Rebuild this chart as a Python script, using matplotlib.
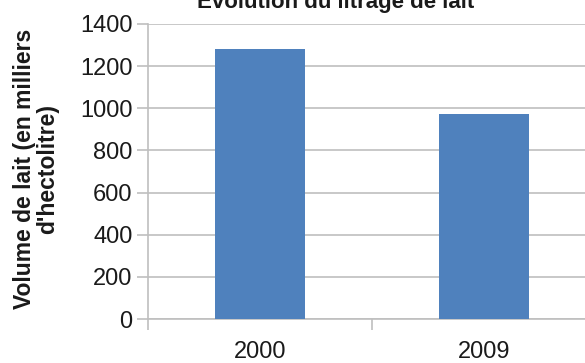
import matplotlib
matplotlib.use("Agg")
import matplotlib.pyplot as plt

# Milk volume by year (thousands of hectolitres)
years = ["2000", "2009"]
volumes = [1280, 975]
y_ticks = [0, 200, 400, 600, 800, 1000, 1200, 1400]

title = "Évolution du litrage de lait"
y_label = "Volume de lait (en milliers\nd'hectolitre)"

W, H = 585, 363
fig = plt.figure(figsize=(W / 100, H / 100), dpi=100)
plt.rcParams["font.family"] = ["Liberation Sans", "DejaVu Sans"]

# Plot area (extends slightly past the right edge of the figure)
left, right, top, bottom = 148, 596, 24, 319
ax = fig.add_axes([left / W, (H - bottom) / H, (right - left) / W, (bottom - top) / H])

grid_color = "#bfbfbf"
bar_color = "#4f81bd"
text_color = "#1a1a1a"

x = list(range(len(years)))
ax.bar(x, volumes, width=0.4, color=bar_color, zorder=3)

ax.set_xlim(-0.5, len(years) - 0.5)
ax.set_ylim(0, 1400)
ax.set_yticks(y_ticks)
ax.set_yticklabels([str(v) for v in y_ticks], fontsize=17, color=text_color)
ax.yaxis.grid(True, color=grid_color, linewidth=1.2, zorder=0)

# Category labels centered under the bars; ticks at category boundaries
ax.set_xticks([i - 0.5 for i in range(len(years) + 1)])
ax.set_xticklabels([])
ax.set_xticks(x, minor=True)
ax.set_xticklabels(years, minor=True, fontsize=17, color=text_color)
ax.tick_params(axis="x", which="minor", length=0, pad=16)
ax.tick_params(axis="x", which="major", length=8, color=grid_color, width=1.2, direction="out")
ax.tick_params(axis="y", length=8, color=grid_color, width=1.2, direction="out", pad=3)

for side in ["top", "right"]:
    ax.spines[side].set_visible(False)
ax.spines["left"].set_color(grid_color)
ax.spines["left"].set_linewidth(1.2)
ax.spines["bottom"].set_color(grid_color)
ax.spines["bottom"].set_linewidth(1.2)

fig.text(36 / W, 1 - 169 / H, y_label, rotation=90, ha="center", va="center",
         fontsize=16.5, fontweight="bold", color=text_color, multialignment="center",
         linespacing=1.05)

fig.text(336 / W, 1 - 8 / H, title, ha="center", va="baseline",
         fontsize=16, fontweight="bold", color=text_color)

fig.savefig("out.png", dpi=100)
